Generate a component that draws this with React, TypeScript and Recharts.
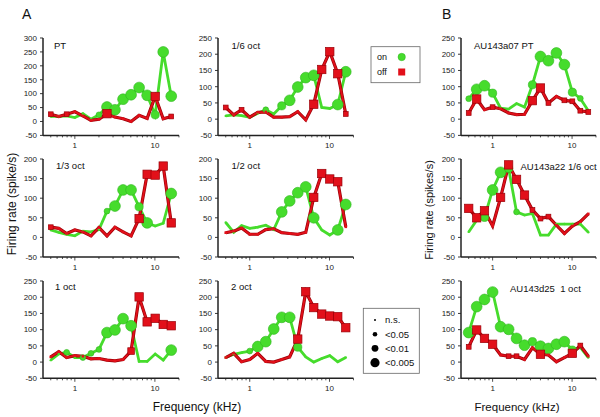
import React from 'react';
import { LineChart, Line, XAxis, YAxis } from 'recharts';

const FONT = '"Liberation Sans", Arial, Helvetica, sans-serif';
const GREEN = '#46dc2c';
const GREEN_EDGE = '#2fb51f';
const RED = '#e2101a';
const RED_DARK = '#9a0008';
const AXIS = '#222';

// Frequencies (kHz), 1/3-octave steps
const FREQ = [0.5, 0.63, 0.79, 1, 1.26, 1.59, 2, 2.52, 3.17, 4, 5.04, 6.35, 8, 10.08, 12.7, 16];
const X_TICKS = [0.5, 0.6, 0.7, 0.8, 0.9, 1, 2, 3, 4, 5, 6, 7, 8, 9, 10, 20];

// significance: 0 = n.s., 1 = <0.05, 2 = <0.01, 3 = <0.005
const ptOn = [18, 18, 20, 14, 28, 8, 24, 52, 42, 80, 96, 122, 94, 24, 250, 91];
const ptOnSig = [0, 0, 0, 0, 0, 0, 1, 3, 3, 3, 3, 3, 3, 2, 3, 3];
const ptOff = [26, 18, 26, 35, 20, 4, 8, 28, 16, 10, 0, 22, 11, 90, 10, 18];
const ptOffSig = [1, 0, 1, 0, 0, 0, 0, 3, 0, 0, 0, 0, 0, 3, 0, 1];

const s6On = [10, 13, 11, 6, 18, 29, 16, 41, 58, 99, 128, 135, 36, 33, 45, 146];
const s6OnSig = [0, 0, 0, 0, 0, 1, 0, 2, 3, 3, 3, 3, 0, 0, 3, 3];
const s6Off = [36, 13, 29, 6, 21, 22, 6, 6, 8, 23, -2, 46, 153, 208, 140, 16];
const s6OffSig = [1, 0, 1, 0, 0, 0, 0, 0, 0, 0, 0, 3, 3, 3, 3, 1];

const t3On = [19, 13, 8, 4, 16, 14, 20, 67, 80, 121, 121, 78, 37, 29, 36, 112];
const t3OnSig = [0, 0, 0, 0, 0, 0, 0, 1, 3, 3, 3, 2, 3, 0, 0, 3];
const t3Off = [26, 23, 10, 19, 14, 4, 25, 4, 26, 14, 4, 48, 161, 159, 182, 37];
const t3OffSig = [1, 0, 0, 0, 0, 0, 0, 0, 0, 0, 0, 3, 3, 3, 3, 3];

const h2On = [38, 13, 30, 23, 26, 31, 20, 65, 93, 114, 129, 50, 19, 6, 19, 84];
const h2OnSig = [0, 0, 0, 0, 0, 0, 0, 3, 3, 3, 3, 3, 0, 0, 3, 3];
const h2Off = [12, 16, 24, 8, 8, 20, 22, 12, 10, 8, 13, 102, 163, 149, 142, 27];
const h2OffSig = [0, 0, 0, 0, 0, 0, 0, 0, 0, 0, 0, 3, 3, 3, 3, 0];

const o1On = [6, 25, 30, 14, 14, 27, 39, 91, 99, 134, 112, 2, 2, 25, 6, 37];
const o1OnSig = [0, 0, 1, 0, 1, 1, 1, 3, 3, 3, 3, 0, 0, 0, 0, 3];
const o1Off = [16, 32, 14, 20, 18, 10, 11, 6, 4, 8, 34, 201, 124, 135, 116, 112];
const o1OffSig = [0, 0, 0, 0, 0, 0, 0, 0, 0, 0, 2, 3, 3, 3, 3, 3];

const o2On = [14, 24, 29, 34, 48, 63, 102, 138, 138, 46, 16, 0, 11, 20, 1, 14];
const o2OnSig = [0, 0, 0, 1, 3, 3, 3, 3, 3, 2, 0, 0, 0, 0, 0, 0];
const o2Off = [14, 27, 1, 8, 27, 2, 0, 8, 16, 71, 217, 168, 148, 142, 140, 106];
const o2OffSig = [0, 0, 0, 0, 0, 0, 0, 0, 0, 3, 3, 3, 3, 3, 3, 3];

const bPtOn = [63, 92, 103, 80, 34, 31, 48, 37, 106, 193, 180, 204, 168, 83, 64, 26];
const bPtOnSig = [1, 3, 3, 2, 0, 0, 0, 0, 2, 3, 3, 3, 3, 2, 1, 0];
const bPtOff = [19, 62, 29, 37, 32, 19, 14, 15, 57, 96, 50, 70, 58, 55, 26, 22];
const bPtOffSig = [1, 3, 0, 1, 0, 0, 0, 0, 3, 3, 1, 0, 1, 1, 1, 1];

const b6On = [14, 44, 51, 121, 166, 176, 65, 57, 61, 6, 6, 34, 34, 34, 34, 13];
const b6OnSig = [0, 0, 2, 3, 3, 2, 1, 0, 0, 0, 0, 0, 0, 0, 0, 0];
const b6Off = [74, 50, 68, 29, 102, 185, 148, 108, 70, 48, 53, 31, 10, 29, 40, 60];
const b6OffSig = [3, 3, 3, 0, 3, 3, 3, 3, 1, 1, 1, 0, 0, 0, 0, 0];

const b1On = [91, 171, 193, 216, 109, 101, 73, 52, 63, 49, 42, 55, 63, 37, 45, 14];
const b1OnSig = [3, 3, 3, 3, 3, 3, 3, 3, 2, 3, 3, 3, 3, 2, 0, 0];
const b1Off = [47, 99, 73, 55, 22, 18, 18, 8, 44, 24, 22, 1, 14, 27, 51, 18];
const b1OffSig = [1, 3, 3, 3, 0, 1, 1, 0, 0, 3, 0, 0, 0, 3, 1, 0];

const SIG_LABELS = ['n.s.', '<0.05', '<0.01', '<0.005'];

// layout
const COL_X = [42.5, 218, 460.5];
const COL_W = [136, 135.5, 135];
const ROW_Y = [38.3, 159.3, 281];
const ROW_H = [97.4, 98, 97.3];

const PANELS = [
  { title: 'PT', col: 0, row: 0, ymax: 300, on: ptOn, onSig: ptOnSig, off: ptOff, offSig: ptOffSig, tx: 54, ty: 48.5 },
  { title: '1/6 oct', col: 1, row: 0, ymax: 250, on: s6On, onSig: s6OnSig, off: s6Off, offSig: s6OffSig, tx: 231.5, ty: 48.5 },
  { title: '1/3 oct', col: 0, row: 1, ymax: 200, on: t3On, onSig: t3OnSig, off: t3Off, offSig: t3OffSig, tx: 56, ty: 168.5 },
  { title: '1/2 oct', col: 1, row: 1, ymax: 200, on: h2On, onSig: h2OnSig, off: h2Off, offSig: h2OffSig, tx: 231.5, ty: 168.5 },
  { title: '1 oct', col: 0, row: 2, ymax: 250, on: o1On, onSig: o1OnSig, off: o1Off, offSig: o1OffSig, tx: 55, ty: 290 },
  { title: '2 oct', col: 1, row: 2, ymax: 250, on: o2On, onSig: o2OnSig, off: o2Off, offSig: o2OffSig, tx: 231, ty: 290 },
  { title: 'AU143a07 PT', col: 2, row: 0, ymax: 250, on: bPtOn, onSig: bPtOnSig, off: bPtOff, offSig: bPtOffSig, tx: 474, ty: 48.5 },
  { title: 'AU143a22 1/6 oct', col: 2, row: 1, ymax: 200, on: b6On, onSig: b6OnSig, off: b6Off, offSig: b6OffSig, tx: 520.5, ty: 170 },
  { title: 'AU143d25  1 oct', col: 2, row: 2, ymax: 250, on: b1On, onSig: b1OnSig, off: b1Off, offSig: b1OffSig, tx: 510, ty: 291.8 },
];

const G_R = [1.2, 2.9, 4.1, 5.4];
const R_H = [1.3, 2.4, 3.3, 4.2];

function makeOnDot(sig: number[]) {
  return (p: any) => {
    const { cx, cy, index } = p;
    if (cx == null || cy == null) return <g key={`on-${index}`} />;
    const s = sig[index] ?? 0;
    return (
      <circle key={`on-${index}`} cx={cx} cy={cy} r={G_R[s]} fill={GREEN}
        stroke={GREEN_EDGE} strokeWidth={s ? 0.6 : 0} />
    );
  };
}

function makeOffDot(sig: number[]) {
  return (p: any) => {
    const { cx, cy, index } = p;
    if (cx == null || cy == null) return <g key={`off-${index}`} />;
    const s = sig[index] ?? 0;
    const h = R_H[s];
    return (
      <rect key={`off-${index}`} x={cx - h} y={cy - h} width={2 * h} height={2 * h}
        fill={RED} stroke={RED_DARK} strokeWidth={s ? 0.7 : 0} />
    );
  };
}

function XTick(props: any) {
  const { x, y, payload } = props;
  const v = payload.value;
  const major = v === 1 || v === 10;
  return (
    <g>
      <line x1={x} x2={x} y1={y} y2={y + (major ? 3.5 : 2)} stroke={AXIS} strokeWidth={0.8} />
      {major && (
        <text x={x} y={y + 13} textAnchor="middle" fontSize={8} fill={AXIS} fontFamily={FONT}>
          {v}
        </text>
      )}
    </g>
  );
}

function Panel({ p }: { p: typeof PANELS[number] }) {
  const x0 = COL_X[p.col];
  const y0 = ROW_Y[p.row];
  const w = COL_W[p.col];
  const h = ROW_H[p.row];
  const data = FREQ.map((f, i) => ({ f, on: p.on[i], off: p.off[i] }));
  const yTicks: number[] = [];
  for (let v = -50; v <= p.ymax; v += 50) yTicks.push(v);
  return (
    <div style={{ position: 'absolute', left: x0 - 40, top: y0 - 10 }}>
      <LineChart width={40 + w + 8} height={10 + h + 22} data={data}
        margin={{ top: 10, right: 8, left: 0, bottom: 0 }}>
        <XAxis dataKey="f" type="number" scale="log" domain={[0.4, 20]} allowDataOverflow
          ticks={X_TICKS} interval={0} tick={<XTick />} tickLine={false} tickSize={0} tickMargin={0}
          height={22} axisLine={{ stroke: AXIS, strokeWidth: 1.5 }} />
        <YAxis type="number" domain={[-50, p.ymax]} ticks={yTicks} interval={0} width={40}
          allowDataOverflow tickSize={3} tickMargin={3}
          tick={{ fontSize: 8, fill: AXIS, fontFamily: FONT }}
          tickLine={{ stroke: AXIS, strokeWidth: 0.9 }}
          axisLine={{ stroke: AXIS, strokeWidth: 1.5 }} />
        <Line dataKey="on" stroke={GREEN} strokeWidth={2.8} dot={makeOnDot(p.onSig)}
          activeDot={false} isAnimationActive={false} />
        <Line dataKey="off" stroke={RED_DARK} strokeWidth={3.2} dot={false}
          activeDot={false} isAnimationActive={false} />
        <Line dataKey="off" stroke={RED} strokeWidth={1.8} dot={makeOffDot(p.offSig)}
          activeDot={false} isAnimationActive={false} />
      </LineChart>
    </div>
  );
}

export default function App() {
  return (
    <div style={{ position: 'absolute', left: 0, top: 0, width: 600, height: 417, background: '#fff', overflow: 'hidden', fontFamily: FONT }}>
      {PANELS.map((p) => (
        <Panel key={p.title} p={p} />
      ))}
      <svg width={600} height={417} style={{ position: 'absolute', left: 0, top: 0, pointerEvents: 'none' }}
        fontFamily={FONT}>
        <text x={22} y={18.5} fontSize={14} fill="#111">A</text>
        <text x={442} y={18.5} fontSize={14} fill="#111">B</text>
        {PANELS.map((p) => (
          <text key={`t-${p.title}`} x={p.tx} y={p.ty} fontSize={9.5} fill="#111" style={{ whiteSpace: 'pre' }}>
            {p.title}
          </text>
        ))}
        <text transform="translate(16.3,204) rotate(-90)" textAnchor="middle" fontSize={12} fill="#111">
          Firing rate (spike/s)
        </text>
        <text transform="translate(433,210) rotate(-90)" textAnchor="middle" fontSize={11} fill="#111">
          Firing rate (spikes/s)
        </text>
        <text x={197} y={411.3} textAnchor="middle" fontSize={12} fill="#111">Frequency (kHz)</text>
        <text x={517} y={411.3} textAnchor="middle" fontSize={11.5} fill="#111">Frequency (kHz)</text>

        {/* on/off legend */}
        <rect x={371} y={46.7} width={49} height={36} fill="#fff" stroke="#666" strokeWidth={0.8} />
        <text x={377} y={60.2} fontSize={9} fill="#111">on</text>
        <text x={377} y={75.2} fontSize={9} fill="#111">off</text>
        <circle cx={401.7} cy={57} r={3.7} fill={GREEN} stroke={GREEN_EDGE} strokeWidth={0.5} />
        <rect x={398.2} y={68.5} width={7} height={7} fill={RED} />

        {/* significance legend */}
        <rect x={363.3} y={308.3} width={56} height={65} fill="#fff" stroke="#666" strokeWidth={0.8} />
        {SIG_LABELS.map((lab, i) => {
          const cy = [320, 334.3, 348.3, 362.7][i];
          const r = [1, 2.3, 3.4, 4.6][i];
          return (
            <g key={lab}>
              <circle cx={375} cy={cy} r={r} fill="#000" />
              <text x={385} y={cy + 3.3} fontSize={9.5} fill="#111">{lab}</text>
            </g>
          );
        })}
      </svg>
    </div>
  );
}
